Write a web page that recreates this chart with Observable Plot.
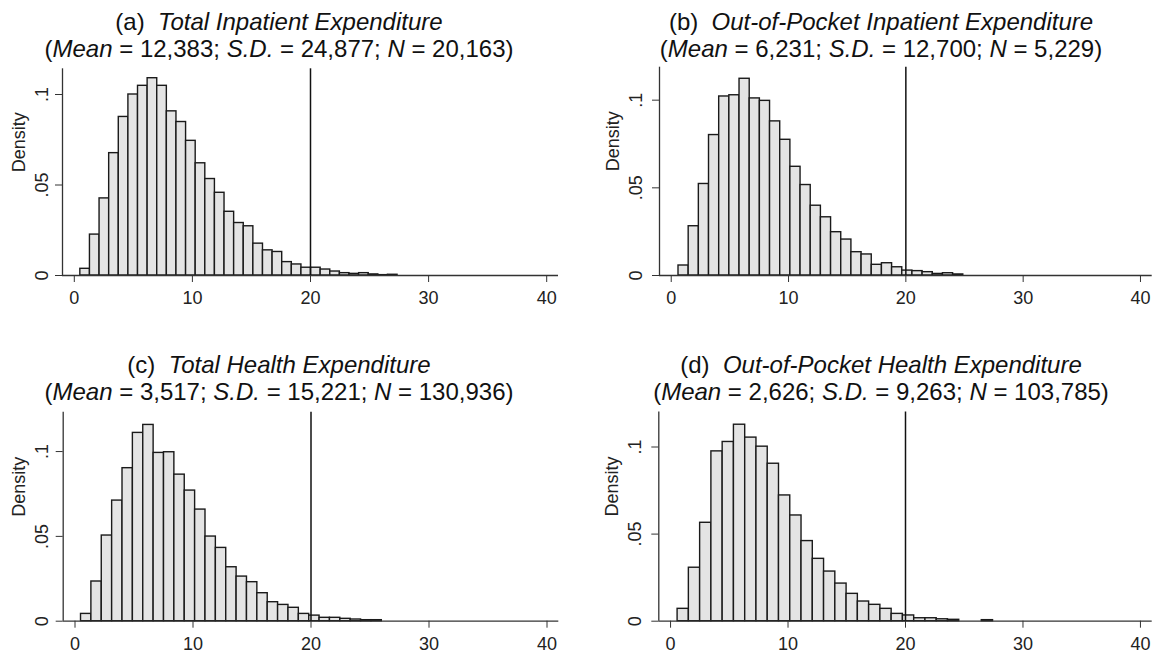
<!DOCTYPE html>
<html><head><meta charset="utf-8">
<script src="https://cdn.jsdelivr.net/npm/d3@7"></script>
<script src="https://cdn.jsdelivr.net/npm/@observablehq/plot@0.6"></script>
<style>
body{margin:0;background:#fff;}
#wrap{position:relative;width:1164px;height:656px;overflow:hidden;font-family:"Liberation Sans",Arial,sans-serif;color:#111;}
.title{position:absolute;font-size:24px;line-height:26.8px;white-space:pre;text-align:center;transform:translateX(-50%);}
.panel{position:absolute;}
</style></head><body><div id="wrap"></div>
<script>
// ---- data ----
const panelLetters = ["(a)", "(b)", "(c)", "(d)"];
const panelNames = ["Total Inpatient Expenditure", "Out-of-Pocket Inpatient Expenditure", "Total Health Expenditure", "Out-of-Pocket Health Expenditure"];
const means = ["12,383", "6,231", "3,517", "2,626"];
const sds = ["24,877", "12,700", "15,221", "9,263"];
const ns = ["20,163", "5,229", "130,936", "103,785"];
const binStarts = [0.51, 0.62, 0.51, 0.60];
const binWidths = [0.814, 0.867, 0.879, 0.959];
const densityA = [.0037,.0226,.0426,.0676,.0876,.100,.1048,.109,.1048,.0907,.0848,.0744,.062,.0533,.0457,.0352,.029,.0272,.0176,.0139,.013,.0074,.0061,.0043,.0043,.0033,.0022,.0013,.0009,.0013,.0006,.0002,.0004];
const densityB = [.0057,.0281,.0522,.0801,.1021,.1028,.1122,.101,.0996,.0879,.0774,.062,.0516,.0398,.0332,.0247,.0205,.0133,.012,.0061,.007,.0047,.0028,.0025,.0019,.0009,.0013,.0006];
const densityC = [.0043,.0234,.0505,.0711,.0902,.111,.1157,.0992,.0996,.0864,.077,.0658,.0499,.0432,.0318,.0263,.023,.0165,.0112,.0096,.0079,.0043,.0033,.002,.002,.0014,.001,.0006,.0006];
const densityD = [.0071,.0307,.0565,.0975,.1029,.1128,.1054,.1002,.0904,.0722,.0607,.046,.0358,.0285,.0216,.0157,.0113,.0094,.0071,.0042,.0033,.0017,.0017,.0011,.0008,0,0,.0006];
const yMax = [0.1142, 0.1188, 0.1232, 0.1201];
const xTicks = [0, 10, 20, 30, 40];
const yTicks = [0, 0.05, 0.1];
const xDomain = [-1, 41];
const cutoff = 20;
const yLabel = "Density";

// ---- layout (pixels) ----
const layout = [
  {left: 0,   top: 0,   width: 582, height: 320, mt: 68.3, mb: 45,   ml: 62,   mr: 24,   cx: 279, tt: 9.3,   pad: 8,  ldx: -38},
  {left: 582, top: 0,   width: 582, height: 320, mt: 66.7, mb: 45,   ml: 77,   mr: 12.3, cx: 881, tt: 9.3,   pad: 11, ldx: -40.5},
  {left: 0,   top: 330, width: 582, height: 326, mt: 81.7, mb: 35.3, ml: 62.7, mr: 23.7, cx: 279, tt: 352.1, pad: 8,  ldx: -38},
  {left: 582, top: 330, width: 582, height: 326, mt: 81.5, mb: 35.3, ml: 76.3, mr: 12.3, cx: 881, tt: 352.1, pad: 11, ldx: -40.5}
];
const densities = [densityA, densityB, densityC, densityD];

const wrap = document.getElementById("wrap");
const fmtY = d => d === 0 ? "0" : String(d).replace(/^0/, "");

densities.forEach((dens, p) => {
  const L = layout[p];
  const bins = dens.map((v, i) => ({
    x1: binStarts[p] + i * binWidths[p],
    x2: binStarts[p] + (i + 1) * binWidths[p],
    y: v
  }));
  const svg = Plot.plot({
    width: L.width, height: L.height,
    marginTop: L.mt, marginBottom: L.mb, marginLeft: L.ml, marginRight: L.mr,
    style: {fontFamily: '"Liberation Sans", Arial, sans-serif', fontSize: "18px", color: "#222", background: "none", overflow: "visible"},
    x: {domain: xDomain},
    y: {domain: [0, yMax[p]]},
    marks: [
      Plot.rectY(bins, {x1: "x1", x2: "x2", y: "y", fill: "#e4e4e4", stroke: "#1a1a1a", strokeWidth: 1.4, inset: 0}),
      Plot.ruleY([0], {stroke: "#333", strokeWidth: 1.3}),
      Plot.ruleX([xDomain[0]], {stroke: "#333", strokeWidth: 1.3}),
      Plot.ruleX([cutoff], {stroke: "#111", strokeWidth: 1.5}),
      Plot.axisX(xTicks, {tickSize: 7, tickPadding: 9, label: null, stroke: "#333"}),
      Plot.axisY(yTicks, {tickSize: 7, tickPadding: L.pad, tickRotate: -90, tickFormat: fmtY, label: null, stroke: "#333"}),
      Plot.text([yLabel], {frameAnchor: "left", rotate: -90, dx: L.ldx, lineAnchor: "bottom", fontSize: 18, fill: "#222"})
    ]
  });
  const holder = document.createElement("div");
  holder.className = "panel";
  holder.style.left = L.left + "px";
  holder.style.top = L.top + "px";
  holder.appendChild(svg);
  wrap.appendChild(holder);

  const t = document.createElement("div");
  t.className = "title";
  t.style.left = L.cx + "px";
  t.style.top = L.tt + "px";
  t.innerHTML = `${panelLetters[p]}  <i>${panelNames[p]}</i><br>(<i>Mean</i> = ${means[p]}; <i>S.D.</i> = ${sds[p]}; <i>N</i> = ${ns[p]})`;
  wrap.appendChild(t);
});
</script></body></html>
